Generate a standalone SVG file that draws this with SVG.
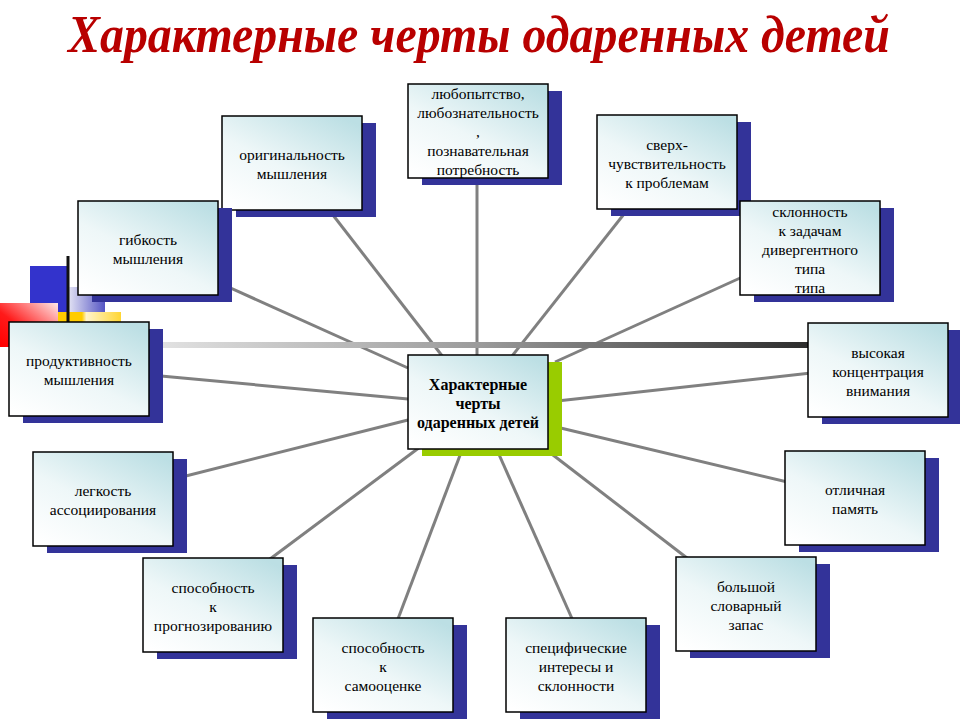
<svg xmlns="http://www.w3.org/2000/svg" width="960" height="720" viewBox="0 0 960 720">
<defs>
<linearGradient id="boxGrad" x1="0.1" y1="1" x2="0.85" y2="0">
<stop offset="0" stop-color="#ffffff"/>
<stop offset="0.45" stop-color="#eef7f8"/>
<stop offset="1" stop-color="#bcdfe4"/>
</linearGradient>
<linearGradient id="barGrad" x1="0" y1="0" x2="1" y2="0">
<stop offset="0" stop-color="#e4e4e4"/>
<stop offset="0.5" stop-color="#9a9a9a"/>
<stop offset="1" stop-color="#2a2a2a"/>
</linearGradient>
<linearGradient id="redGrad" x1="0" y1="1" x2="1" y2="0">
<stop offset="0" stop-color="#ff0000"/>
<stop offset="0.4" stop-color="#ff1a1a"/>
<stop offset="1" stop-color="#ffe8e8"/>
</linearGradient>
<linearGradient id="yelGrad" x1="0" y1="0" x2="1" y2="0">
<stop offset="0" stop-color="#ffcc00"/>
<stop offset="0.38" stop-color="#ffcc00"/>
<stop offset="0.45" stop-color="#fff4cc"/>
<stop offset="1" stop-color="#ffd633"/>
</linearGradient>
<linearGradient id="blueGrad" x1="0" y1="0" x2="1" y2="0">
<stop offset="0" stop-color="#e4e4f4"/>
<stop offset="1" stop-color="#5555c4"/>
</linearGradient>
</defs>
<style>
.title{font-family:"Liberation Serif","Times New Roman",serif;font-size:52px;font-weight:bold;font-style:italic;fill:#b80000}
.shadow{fill:#333399}
.cshadow{fill:#99cc00}
.box{fill:url(#boxGrad);stroke:#000;stroke-width:1.5}
.lbl{font-family:"Liberation Serif","Times New Roman",serif;font-size:15.5px;text-anchor:middle;fill:#000}
.clbl{font-family:"Liberation Serif","Times New Roman",serif;font-size:16px;font-weight:bold;text-anchor:middle;fill:#000}
.conn line{stroke:#808080;stroke-width:3}
</style>
<rect width="960" height="720" fill="#ffffff"/>
<text class="title" x="68" y="52" textLength="822" lengthAdjust="spacingAndGlyphs">Характерные черты одаренных детей</text>

<g id="decoration">
<rect x="30" y="266" width="38" height="46" fill="#3333cc"/>
<rect x="68" y="287" width="37" height="25" fill="url(#blueGrad)"/>
<rect x="0" y="303" width="58" height="44" fill="url(#redGrad)"/>
<rect x="58" y="312" width="63" height="10" fill="url(#yelGrad)"/>
<line x1="68" y1="256" x2="68" y2="330" stroke="#111" stroke-width="3"/>
</g>

<g id="connectors" class="conn">
<line x1="319" y1="197" x2="450" y2="366"/>
<line x1="477" y1="170" x2="477" y2="365"/>
<line x1="639" y1="195" x2="505" y2="365"/>
<line x1="760" y1="269" x2="555" y2="362"/>
<line x1="820" y1="372" x2="548" y2="402"/>
<line x1="800" y1="485" x2="548" y2="425"/>
<line x1="700" y1="568" x2="540" y2="445"/>
<line x1="578" y1="632" x2="497" y2="450"/>
<line x1="393" y1="632" x2="462" y2="450"/>
<line x1="262" y1="565" x2="420" y2="447"/>
<line x1="170" y1="480" x2="408" y2="420"/>
<line x1="150" y1="375" x2="408" y2="399"/>
<line x1="215" y1="281" x2="408" y2="368"/>
</g>

<rect id="bar" x="150" y="342" width="665" height="6" fill="url(#barGrad)"/>

<g id="n-original">
<rect class="shadow" x="236" y="123" width="140" height="94"/>
<rect class="box" x="222" y="116" width="140" height="94"/>
<text class="lbl" x="292" y="160">оригинальность</text>
<text class="lbl" x="292" y="179">мышления</text>
</g>
<g id="n-curiosity">
<rect class="shadow" x="422" y="91" width="140" height="94"/>
<rect class="box" x="408" y="84" width="140" height="94"/>
<text class="lbl" x="478" y="99">любопытство,</text>
<text class="lbl" x="478" y="118">любознательность</text>
<text class="lbl" x="478" y="137">,</text>
<text class="lbl" x="478" y="156">познавательная</text>
<text class="lbl" x="478" y="175">потребность</text>
</g>
<g id="n-sensitivity">
<rect class="shadow" x="611" y="122" width="140" height="94"/>
<rect class="box" x="597" y="115" width="140" height="94"/>
<text class="lbl" x="667" y="149.5">сверх-</text>
<text class="lbl" x="667" y="168.5">чувствительность</text>
<text class="lbl" x="667" y="187.5">к проблемам</text>
</g>
<g id="n-divergent">
<rect class="shadow" x="754" y="208" width="140" height="94"/>
<rect class="box" x="740" y="201" width="140" height="94"/>
<text class="lbl" x="810" y="216.5">склонность</text>
<text class="lbl" x="810" y="235.5">к задачам</text>
<text class="lbl" x="810" y="254.5">дивергентного</text>
<text class="lbl" x="810" y="273.5">типа</text>
<text class="lbl" x="810" y="292.5">типа</text>
</g>
<g id="n-attention">
<rect class="shadow" x="822" y="330" width="140" height="94"/>
<rect class="box" x="808" y="323" width="140" height="94"/>
<text class="lbl" x="878" y="357.5">высокая</text>
<text class="lbl" x="878" y="376.5">концентрация</text>
<text class="lbl" x="878" y="395.5">внимания</text>
</g>
<g id="n-memory">
<rect class="shadow" x="799" y="458" width="140" height="94"/>
<rect class="box" x="785" y="451" width="140" height="94"/>
<text class="lbl" x="855" y="495">отличная</text>
<text class="lbl" x="855" y="514">память</text>
</g>
<g id="n-vocabulary">
<rect class="shadow" x="690" y="564" width="140" height="94"/>
<rect class="box" x="676" y="557" width="140" height="94"/>
<text class="lbl" x="746" y="591.5">большой</text>
<text class="lbl" x="746" y="610.5">словарный</text>
<text class="lbl" x="746" y="629.5">запас</text>
</g>
<g id="n-interests">
<rect class="shadow" x="520" y="625" width="140" height="94"/>
<rect class="box" x="506" y="618" width="140" height="94"/>
<text class="lbl" x="576" y="652.5">специфические</text>
<text class="lbl" x="576" y="671.5">интересы и</text>
<text class="lbl" x="576" y="690.5">склонности</text>
</g>
<g id="n-selfesteem">
<rect class="shadow" x="327" y="625" width="140" height="94"/>
<rect class="box" x="313" y="618" width="140" height="94"/>
<text class="lbl" x="383" y="652.5">способность</text>
<text class="lbl" x="383" y="671.5">к</text>
<text class="lbl" x="383" y="690.5">самооценке</text>
</g>
<g id="n-forecast">
<rect class="shadow" x="157" y="565" width="140" height="94"/>
<rect class="box" x="143" y="558" width="140" height="94"/>
<text class="lbl" x="213" y="592.5">способность</text>
<text class="lbl" x="213" y="611.5">к</text>
<text class="lbl" x="213" y="630.5">прогнозированию</text>
</g>
<g id="n-association">
<rect class="shadow" x="47" y="459" width="140" height="94"/>
<rect class="box" x="33" y="452" width="140" height="94"/>
<text class="lbl" x="103" y="496">легкость</text>
<text class="lbl" x="103" y="515">ассоциирования</text>
</g>
<g id="n-productivity">
<rect class="shadow" x="23" y="329" width="140" height="94"/>
<rect class="box" x="9" y="322" width="140" height="94"/>
<text class="lbl" x="79" y="366">продуктивность</text>
<text class="lbl" x="79" y="385">мышления</text>
</g>
<g id="n-flexibility">
<rect class="shadow" x="92" y="208" width="140" height="94"/>
<rect class="box" x="78" y="201" width="140" height="94"/>
<text class="lbl" x="148" y="245">гибкость</text>
<text class="lbl" x="148" y="264">мышления</text>
</g>
<g id="n-center">
<rect class="cshadow" x="422" y="362" width="140" height="94"/>
<rect class="box" x="408" y="355" width="140" height="94"/>
<text class="clbl" x="478" y="389.5">Характерные</text>
<text class="clbl" x="478" y="408.5">черты</text>
<text class="clbl" x="478" y="427.5">одаренных детей</text>
</g>
</svg>
